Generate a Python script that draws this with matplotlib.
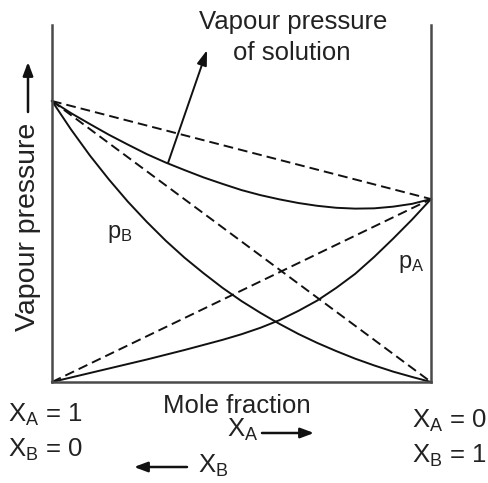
import matplotlib
matplotlib.use("Agg")
from matplotlib import pyplot as plt

plt.rcParams['font.family'] = ['Liberation Sans', 'DejaVu Sans']
plt.rcParams['mathtext.fontset'] = 'custom'
plt.rcParams['mathtext.rm'] = 'Liberation Sans'
plt.rcParams['mathtext.it'] = 'Liberation Sans'

# position along the mole-fraction axis (0 = left edge, 1 = right edge)
frac = [0.0, 0.05, 0.1, 0.15, 0.2, 0.25, 0.3, 0.35, 0.4, 0.45, 0.5,
        0.55, 0.6, 0.65, 0.7, 0.75, 0.8, 0.85, 0.9, 0.95, 1.0]
# vapour pressures (left pure pressure = 1)
p_B = [1.0, 0.899, 0.806, 0.721, 0.642, 0.570, 0.503, 0.442, 0.387, 0.335, 0.288,
       0.246, 0.207, 0.171, 0.139, 0.110, 0.083, 0.059, 0.037, 0.018, 0.0]
p_A = [0.0, 0.016, 0.032, 0.048, 0.064, 0.080, 0.097, 0.114, 0.132, 0.150, 0.170,
       0.193, 0.220, 0.253, 0.290, 0.335, 0.385, 0.445, 0.510, 0.578, 0.651]
p_total = [1.0, 0.957, 0.918, 0.880, 0.845, 0.811, 0.781, 0.754, 0.728, 0.705, 0.683,
           0.665, 0.650, 0.637, 0.627, 0.620, 0.617, 0.618, 0.624, 0.634, 0.651]

# ideal (Raoult) straight lines between the end values
ideal_x = [0.0, 1.0]
ideal_total = [1.0, 0.651]
ideal_B = [1.0, 0.0]
ideal_A = [0.0, 0.651]

W, H = 488, 483
fig = plt.figure(figsize=(W / 100, H / 100), dpi=100)

# axes placed in pixels: x 52..431, y=0 at 382, y=1 at 101, box top at 25
ax = fig.add_axes([52 / W, (H - 382) / H, 379 / W, (382 - 25) / H])
ax.set_xlim(0, 1)
ax.set_ylim(0, (382 - 25) / 281)
ax.set_xticks([])
ax.set_yticks([])
ax.spines['top'].set_visible(False)
for s in ('left', 'right', 'bottom'):
    ax.spines[s].set_color('#4a4a4a')
    ax.spines[s].set_linewidth(1.8)

dash = (0, (5, 2.6))
ax.plot(frac, p_B, color='#111111', lw=1.4, clip_on=False)
ax.plot(frac, p_A, color='#111111', lw=1.4, clip_on=False)
ax.plot(frac, p_total, color='#111111', lw=1.4, clip_on=False)
ax.plot(ideal_x, ideal_total, color='#111111', lw=1.4, ls=dash)
ax.plot(ideal_x, ideal_B, color='#111111', lw=1.4, ls=dash)
ax.plot(ideal_x, ideal_A, color='#111111', lw=1.4, ls=dash)

# arrow pointing from the total curve to its caption
ax.annotate('', xy=(0.409, 1.181), xytext=(0.306, 0.779),
            arrowprops=dict(arrowstyle='-|>,head_length=0.9,head_width=0.3',
                            color='#111111', lw=1.4, shrinkA=0, shrinkB=0))


def px(x, y):
    return x / W, 1 - y / H


txt = dict(color='#222222')
fig.text(*px(293, 29), 'Vapour pressure', fontsize=18.5, ha='center', va='baseline', **txt)
fig.text(*px(292, 60), 'of solution', fontsize=18.5, ha='center', va='baseline', **txt)
fig.text(*px(237, 413), 'Mole fraction', fontsize=18.5, ha='center', va='baseline', **txt)

fig.text(*px(107, 238), r'p$_\mathregular{B}$', fontsize=17, ha='left', va='baseline', **txt)
fig.text(*px(398, 268), r'p$_\mathregular{A}$', fontsize=17, ha='left', va='baseline', **txt)

fig.text(*px(8, 422), r'X$_\mathregular{A}$ = 1', fontsize=18.5, ha='left', va='baseline', **txt)
fig.text(*px(8, 457), r'X$_\mathregular{B}$ = 0', fontsize=18.5, ha='left', va='baseline', **txt)
fig.text(*px(412, 428), r'X$_\mathregular{A}$ = 0', fontsize=18.5, ha='left', va='baseline', **txt)
fig.text(*px(412, 463), r'X$_\mathregular{B}$ = 1', fontsize=18.5, ha='left', va='baseline', **txt)

fig.text(*px(227, 437), r'X$_\mathregular{A}$', fontsize=18.5, ha='left', va='baseline', **txt)
fig.text(*px(198, 473), r'X$_\mathregular{B}$', fontsize=18.5, ha='left', va='baseline', **txt)

arrow = dict(arrowstyle='-|>,head_length=0.8,head_width=0.3', color='#111111',
             lw=1.8, shrinkA=0, shrinkB=0)
fig.add_artist(plt.Annotation('', xy=px(314, 433), xytext=px(262, 433),
                              xycoords='figure fraction', textcoords='figure fraction',
                              arrowprops=arrow))
fig.add_artist(plt.Annotation('', xy=px(134, 467), xytext=px(187, 467),
                              xycoords='figure fraction', textcoords='figure fraction',
                              arrowprops=arrow))

# y label with arrow
fig.text(*px(28, 227), 'Vapour pressure', fontsize=20.5, rotation=90,
         ha='center', va='center', **txt)
fig.add_artist(plt.Annotation('', xy=px(28, 62), xytext=px(28, 112),
                              xycoords='figure fraction', textcoords='figure fraction',
                              arrowprops=arrow))

fig.savefig('out.png', dpi=100, facecolor='white')
